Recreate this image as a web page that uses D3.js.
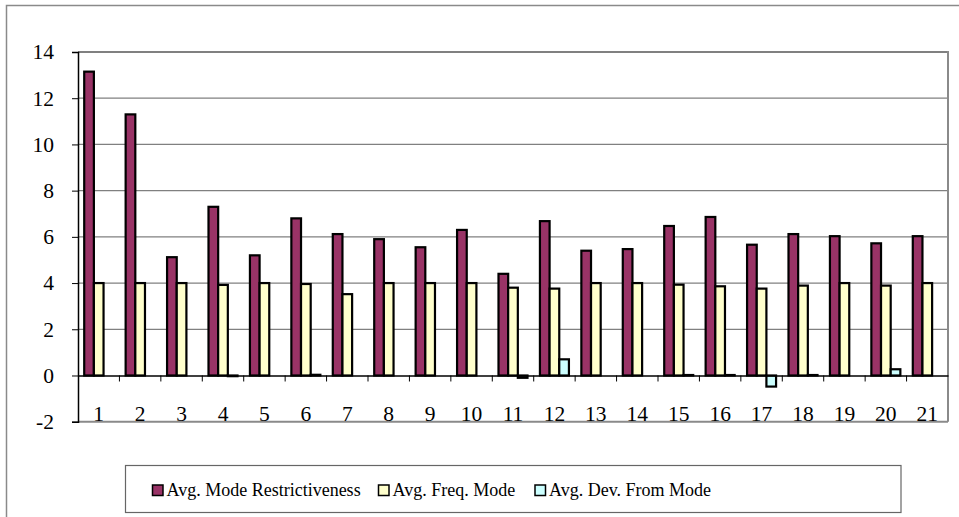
<!DOCTYPE html>
<html>
<head>
<meta charset="utf-8">
<script src="https://cdnjs.cloudflare.com/ajax/libs/d3/7.8.5/d3.min.js"></script>
<style>
  body { margin: 0; background: #fff; }
  svg { display: block; font-family: "Liberation Serif", "Times New Roman", serif; }
</style>
</head>
<body>
<svg width="959" height="517"></svg>
<script>
var categories = ["1","2","3","4","5","6","7","8","9","10","11","12","13","14","15","16","17","18","19","20","21"];
var seriesNames = ["Avg. Mode Restrictiveness", "Avg. Freq. Mode", "Avg. Dev. From Mode"];
var modeRestrictiveness = [13.15, 11.3, 5.12, 7.3, 5.2, 6.8, 6.12, 5.9, 5.55, 6.3, 4.4, 6.68, 5.4, 5.47, 6.47, 6.86, 5.66, 6.12, 6.03, 5.72, 6.03];
var freqMode = [4.0, 4.0, 4.0, 3.92, 4.0, 3.96, 3.52, 4.0, 4.0, 4.0, 3.8, 3.76, 4.0, 4.0, 3.93, 3.86, 3.76, 3.89, 4.0, 3.89, 4.0];
var devFromMode = [0, 0, 0, -0.03, 0, 0.03, 0, 0, 0, 0, -0.1, 0.7, 0, 0, 0.02, 0.02, -0.48, 0.02, 0, 0.27, 0];
var yTicks = [-2, 0, 2, 4, 6, 8, 10, 12, 14];
var colors = ["#993366", "#ffffcc", "#ccffff"];

var svg = d3.select("svg");
var plotLeft = 78, plotRight = 948, plotTop = 52, plotBottom = 421.7;

// outer chart border
svg.append("rect")
  .attr("x", 6.5).attr("y", 5.5)
  .attr("width", 980).attr("height", 530)
  .attr("fill", "none").attr("stroke", "#8a8a8a").attr("stroke-width", 1.5);

var x0 = d3.scaleBand().domain(categories).range([plotLeft, plotRight]);
var x1 = d3.scaleBand().domain(seriesNames)
  .range([x0.bandwidth() * 0.15, x0.bandwidth() * 0.85]);
var y = d3.scaleLinear().domain([-2, 14]).range([plotBottom, plotTop]);

// gridlines
svg.append("g").selectAll("line")
  .data(yTicks.filter(function(d) { return d > 0; }))
  .enter().append("line")
  .attr("x1", plotLeft).attr("x2", plotRight)
  .attr("y1", function(d) { return y(d); })
  .attr("y2", function(d) { return y(d); })
  .attr("stroke", "#808080")
  .attr("stroke-width", function(d) { return d == 14 ? 2 : 1.2; });

// plot area right and bottom borders
svg.append("line").attr("x1", plotRight).attr("x2", plotRight).attr("y1", plotTop - 1).attr("y2", plotBottom)
  .attr("stroke", "#8a8a8a").attr("stroke-width", 2);
svg.append("line").attr("x1", plotLeft).attr("x2", plotRight).attr("y1", y(-2)).attr("y2", y(-2))
  .attr("stroke", "#8a8a8a").attr("stroke-width", 2);

// bars
var table = categories.map(function(c, i) {
  return { cat: c, vals: [modeRestrictiveness[i], freqMode[i], devFromMode[i]] };
});
var groups = svg.append("g").selectAll("g")
  .data(table)
  .enter().append("g")
  .attr("transform", function(d) { return "translate(" + x0(d.cat) + ",0)"; });
groups.selectAll("rect")
  .data(function(d) {
    return d.vals.map(function(v, j) { return { name: seriesNames[j], v: v, j: j }; })
      .filter(function(e) { return e.v != 0; });
  })
  .enter().append("rect")
  .attr("x", function(d) { return x1(d.name); })
  .attr("width", x1.bandwidth())
  .attr("y", function(d) { return y(Math.max(0, d.v)); })
  .attr("height", function(d) { return Math.abs(y(d.v) - y(0)); })
  .attr("fill", function(d) { return colors[d.j]; })
  .attr("stroke", "#000")
  .attr("stroke-width", 2.2);

// zero axis with category ticks
var xAxis = d3.axisBottom(x0).tickSize(0).tickFormat("");
svg.append("g").attr("transform", "translate(0," + y(0) + ")")
  .call(xAxis)
  .call(function(g) { g.select(".domain").attr("stroke", "#000").attr("stroke-width", 1.5); });
svg.append("g").selectAll("line")
  .data(categories.slice(1))
  .enter().append("line")
  .attr("x1", function(d) { return x0(d); })
  .attr("x2", function(d) { return x0(d); })
  .attr("y1", y(0)).attr("y2", y(0) + 6)
  .attr("stroke", "#000").attr("stroke-width", 1);

// category labels near the bottom
svg.append("g").selectAll("text")
  .data(categories)
  .enter().append("text")
  .attr("x", function(d) { return x0(d) + x0.bandwidth() / 2; })
  .attr("y", plotBottom - 1)
  .attr("text-anchor", "middle")
  .attr("font-size", "21.5px")
  .attr("fill", "#000")
  .text(function(d) { return d; });

// y axis (plain hyphen for negatives, as in the original)
var yAxis = d3.axisLeft(y).tickValues(yTicks).tickSize(6).tickPadding(18)
  .tickFormat(function(d) { return String(d); });
svg.append("g").attr("transform", "translate(" + plotLeft + ",0)")
  .call(yAxis)
  .call(function(g) {
    g.select(".domain").attr("stroke", "#000").attr("stroke-width", 1.5);
    g.selectAll(".tick line").attr("stroke", "#000");
    g.selectAll(".tick text")
      .attr("font-size", "21.5px")
      .attr("font-family", "'Liberation Serif', 'Times New Roman', serif")
      .attr("fill", "#000");
  });

// legend
var legend = svg.append("g");
legend.append("rect")
  .attr("x", 125.5).attr("y", 465.5).attr("width", 775.5).attr("height", 47)
  .attr("fill", "#fff").attr("stroke", "#666").attr("stroke-width", 1.2);
var legX = [152.5, 378.5, 535];
var items = legend.selectAll("g.item")
  .data(seriesNames)
  .enter().append("g")
  .attr("class", "item")
  .attr("transform", function(d, i) { return "translate(" + legX[i] + ",0)"; });
items.append("rect")
  .attr("x", 0).attr("y", 485).attr("width", 10.5).attr("height", 10.5)
  .attr("fill", function(d, i) { return colors[i]; })
  .attr("stroke", "#000").attr("stroke-width", 1.5);
items.append("text")
  .attr("x", 14).attr("y", 496)
  .attr("font-size", "18px")
  .attr("fill", "#000")
  .text(function(d) { return d; });
</script>
</body>
</html>
